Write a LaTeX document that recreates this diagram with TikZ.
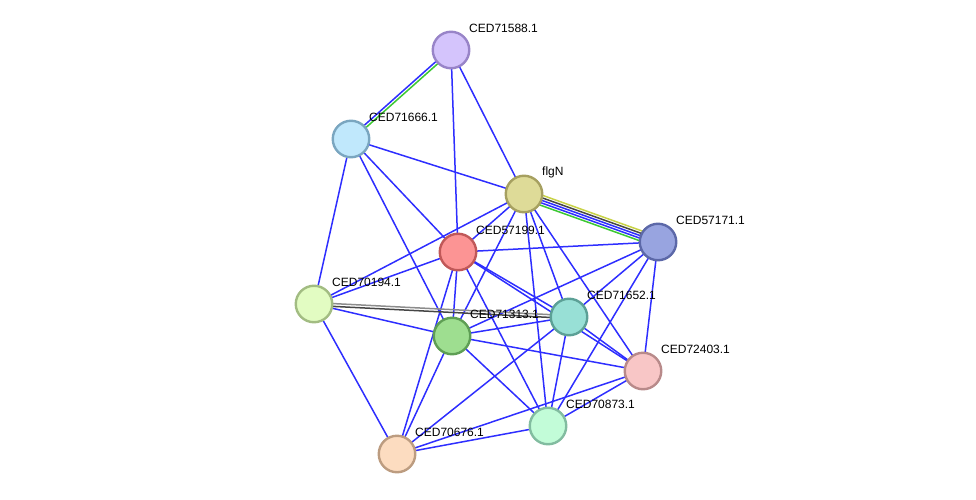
\documentclass[tikz,border=0pt]{standalone}
\usepackage{fontspec}
\setmainfont{Liberation Sans}
\usetikzlibrary{calc,backgrounds}

\definecolor{strblue}{RGB}{46,46,255}
\definecolor{strgreen}{RGB}{60,200,50}
\definecolor{stryellow}{RGB}{200,210,70}
\definecolor{strgray}{RGB}{70,70,70}
\definecolor{strlgray}{RGB}{140,140,140}

\tikzset{
	prot/.style={circle, draw, line width=2.4pt, minimum size=36.5pt, inner sep=0pt},
	lnk/.style={line width=1.5pt, draw=strblue},
	lbl/.style={anchor=west, inner sep=0pt, font=\fontsize{12pt}{14pt}\selectfont}
}

% parallel strand of a link, shifted sideways
\newcommand{\strand}[4]{\draw[lnk,draw=#4] ($(#1.center)!#3!90:(#2.center)$) -- ($(#2.center)!#3!-90:(#1.center)$);}

\begin{document}
\begin{tikzpicture}[x=1pt,y=-1pt]
	\useasboundingbox (0,0) rectangle (976,500);
	
	\node[prot, fill={rgb,255:red,212;green,196;blue,252}, draw={rgb,255:red,152;green,132;blue,200}] (n71588) at (451,50) {};
	\node[prot, fill={rgb,255:red,192;green,232;blue,252}, draw={rgb,255:red,122;green,166;blue,192}] (n71666) at (351,139) {};
	\node[prot, fill={rgb,255:red,222;green,219;blue,152}, draw={rgb,255:red,166;green,160;blue,96}] (flgN) at (524,194) {};
	\node[prot, fill={rgb,255:red,152;green,164;blue,224}, draw={rgb,255:red,92;green,104;blue,168}] (n57171) at (658,242) {};
	\node[prot, fill={rgb,255:red,252;green,148;blue,148}, draw={rgb,255:red,192;green,88;blue,88}] (n57199) at (458,252) {};
	\node[prot, fill={rgb,255:red,226;green,252;blue,194}, draw={rgb,255:red,162;green,188;blue,130}] (n70194) at (314,304) {};
	\node[prot, fill={rgb,255:red,158;green,222;blue,144}, draw={rgb,255:red,94;green,158;blue,84}] (n71313) at (452,336) {};
	\node[prot, fill={rgb,255:red,152;green,224;blue,214}, draw={rgb,255:red,92;green,160;blue,150}] (n71652) at (569,317) {};
	\node[prot, fill={rgb,255:red,248;green,198;blue,198}, draw={rgb,255:red,184;green,138;blue,138}] (n72403) at (643,371) {};
	\node[prot, fill={rgb,255:red,194;green,252;blue,216}, draw={rgb,255:red,130;green,188;blue,160}] (n70873) at (548,426) {};
	\node[prot, fill={rgb,255:red,252;green,220;blue,192}, draw={rgb,255:red,188;green,156;blue,128}] (n70676) at (397,454) {};
	
	\node[lbl] (l71588) at ([shift={(18,-21.5)}]n71588.center) {CED71588.1};
	\node[lbl] (l71666) at ([shift={(18,-21.5)}]n71666.center) {CED71666.1};
	\node[lbl] (lflgN) at ([shift={(18,-21.5)}]flgN.center) {flgN};
	\node[lbl] (l57171) at ([shift={(18,-21.5)}]n57171.center) {CED57171.1};
	\node[lbl] (l57199) at ([shift={(18,-21.5)}]n57199.center) {CED57199.1};
	\node[lbl] (l70194) at ([shift={(18,-21.5)}]n70194.center) {CED70194.1};
	\node[lbl] (l71313) at ([shift={(18,-21.5)}]n71313.center) {CED71313.1};
	\node[lbl] (l71652) at ([shift={(18,-21.5)}]n71652.center) {CED71652.1};
	\node[lbl] (l72403) at ([shift={(18,-21.5)}]n72403.center) {CED72403.1};
	\node[lbl] (l70873) at ([shift={(18,-21.5)}]n70873.center) {CED70873.1};
	\node[lbl] (l70676) at ([shift={(18,-21.5)}]n70676.center) {CED70676.1};
	
	\begin{scope}[on background layer]
		\foreach \a/\b in {n71588/n57199, n71588/flgN,
			n71666/flgN, n71666/n57199, n71666/n71313, n71666/n70194,
			flgN/n57199, flgN/n70194, flgN/n71313, flgN/n71652, flgN/n72403, flgN/n70873,
			n57171/n57199, n57171/n71313, n57171/n71652, n57171/n70873, n57171/n72403,
			n57199/n70194, n57199/n71313, n57199/n71652, n57199/n72403, n57199/n70873, n57199/n70676,
			n70194/n71313, n70194/n70676,
			n71313/n71652, n71313/n72403, n71313/n70873, n71313/n70676,
			n71652/n72403, n71652/n70873, n71652/n70676,
			n72403/n70873, n72403/n70676, n70873/n70676}
			\draw[lnk] (\a.center) -- (\b.center);
		
		% multi-evidence links
		\strand{n71666}{n71588}{1.4pt}{strblue}
		\strand{n71666}{n71588}{-1.4pt}{strgreen}
		
		\strand{flgN}{n57171}{5pt}{stryellow}
		\strand{flgN}{n57171}{2.5pt}{strgray}
		\strand{flgN}{n57171}{0pt}{strblue}
		\strand{flgN}{n57171}{-2.5pt}{strblue}
		\strand{flgN}{n57171}{-5pt}{strgreen}
		
		\strand{n70194}{n71652}{1.4pt}{strlgray}
		\strand{n70194}{n71652}{-1.4pt}{strgray}
	\end{scope}
	
\end{tikzpicture}
\end{document}
